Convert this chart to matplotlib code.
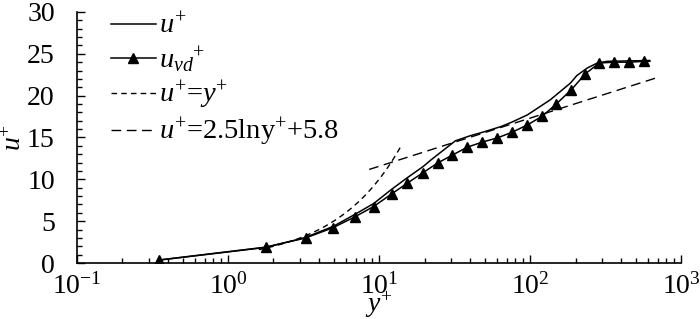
import numpy as np
import matplotlib
matplotlib.use("Agg")
import matplotlib.pyplot as plt
from matplotlib.ticker import LogLocator, MultipleLocator, NullFormatter

plt.rcParams["font.family"] = "Liberation Serif"
plt.rcParams["mathtext.fontset"] = "custom"
plt.rcParams["mathtext.rm"] = "Liberation Serif"
plt.rcParams["mathtext.it"] = "Liberation Serif:italic"

# u+ profile (solid line)
yp_u = [0.35, 1.75, 3.2, 5.0, 6.9, 9.2, 12.1, 15.4, 19.5, 22.0, 32.0, 40.0,
        49.0, 64.0, 75.0, 96.0, 136.0, 185.0, 204.0, 239.0, 279.0, 324.0, 620.0]
u_plus = [0.35, 1.85, 3.0, 4.4, 5.8, 7.1, 8.8, 10.2, 11.5, 12.3, 14.6, 15.2,
          15.65, 16.3, 16.8, 17.7, 19.5, 21.5, 22.4, 23.3, 23.9, 24.1, 24.2]

# van Driest transformed velocity (triangles)
yp_vd = [0.35, 1.78, 3.27, 4.93, 6.89, 9.2, 12.1, 15.4, 19.4, 24.4, 30.6, 38.5,
         48.3, 60.8, 76.4, 96.0, 120.5, 149.0, 187.5, 232.0, 287.0, 361.0, 453.0,
         569.0, 620.0]
u_vd = [0.36, 1.9, 3.0, 4.2, 5.5, 6.75, 8.25, 9.55, 10.75, 11.95, 12.9, 13.85,
        14.45, 14.95, 15.65, 16.5, 17.55, 19.0, 20.7, 22.6, 23.9, 24.0, 24.0,
        24.1, 24.1]

# reference laws
visc_range = [1.6, 14.0]
log_range = [8.6, 726.0]

fig = plt.figure(figsize=(7.0, 3.19), dpi=100)
ax = fig.add_axes([0.110, 0.1755, 0.863, 0.787])

ax.plot(yp_u, u_plus, color="black", lw=1.1, label="$u^{+}$")
ax.plot(yp_vd, u_vd, color="black", lw=1.1, marker="^", ms=6.5,
        markevery=list(range(len(yp_vd) - 1)), label="$u_{vd}{}^{+}$")

y_visc = np.geomspace(visc_range[0], visc_range[1], 50)
ax.plot(y_visc, y_visc, color="black", lw=1.0, dashes=(4, 3),
        label="$u^{+}$=$y^{+}$")
y_log = np.geomspace(log_range[0], log_range[1], 50)
ax.plot(y_log, 2.5 * np.log(y_log) + 5.8, color="black", lw=1.0, dashes=(7, 4),
        label="$u^{+}$=2.5lny$^{+}$+5.8")

ax.set_xscale("log")
ax.set_xlim(0.1, 1000)
ax.set_ylim(0, 30)
ax.xaxis.set_minor_locator(LogLocator(base=10, subs=np.arange(2, 10), numticks=20))
ax.xaxis.set_minor_formatter(NullFormatter())
ax.set_xticks([0.1, 1, 10, 100, 1000])
ax.set_xticklabels(["10$^{-1}$", "10$^{0}$", "10$^{1}$", "10$^{2}$", "10$^{3}$"])
ax.yaxis.set_major_locator(MultipleLocator(5))
ax.yaxis.set_minor_locator(MultipleLocator(1))

ax.tick_params(which="both", direction="in", labelsize=20, width=1.0)
ax.tick_params(which="major", length=6)
ax.tick_params(which="minor", length=3.5)
ax.tick_params(axis="y", pad=16)
ax.tick_params(axis="x", pad=7)

for side in ["top", "right"]:
    ax.spines[side].set_visible(False)
for side in ["left", "bottom"]:
    ax.spines[side].set_linewidth(1.2)

ax.set_xlabel("$y^{+}$", fontsize=20, labelpad=-7)
ax.set_ylabel("$u^{+}$", fontsize=20, labelpad=0)

ax.legend(loc="upper left", bbox_to_anchor=(0.158, 0.96), bbox_transform=fig.transFigure,
          frameon=False, fontsize=20.5, handlelength=1.6, handletextpad=0.1,
          labelspacing=0.14, borderpad=0, borderaxespad=0)

fig.savefig("out.png", dpi=100)
